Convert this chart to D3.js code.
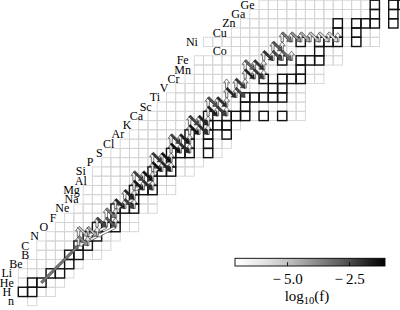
<!DOCTYPE html>
<html>
<head>
<meta charset="utf-8">
<script src="https://cdn.jsdelivr.net/npm/d3@7"></script>
<style>
body { margin: 0; background: #fff; }
</style>
</head>
<body>
<div id="chart"></div>
<script>
// element symbols by Z, and the N range of the network for each Z
const elements = ["n","H","He","Li","Be","B","C","N","O","F","Ne","Na","Mg","Al","Si","P","S",
  "Cl","Ar","K","Ca","Sc","Ti","V","Cr","Mn","Fe","Co","Ni","Cu","Zn","Ga","Ge"];
const nMin = [1,0,0,0,1,2,2,3,4,5,6,7,7,8,8,9,10,11,12,13,14,15,16,17,18,19,19,23,20,23,24,25,26];
const nMax = [1,3,4,5,6,8,9,10,12,12,14,14,16,16,18,19,21,22,22,23,30,30,30,30,32,32,34,34,38,38,37,37,37];

// stable nuclides [Z, N]
const stable = [[1,0],[1,1],[2,1],[2,2],[3,3],[3,4],[4,5],[5,5],[5,6],[6,6],[6,7],[7,7],[7,8],
  [8,8],[8,9],[8,10],[9,10],[10,10],[10,11],[10,12],[11,12],[12,12],[12,13],[12,14],[13,14],
  [14,14],[14,15],[14,16],[15,16],[16,16],[16,17],[16,18],[16,20],[17,18],[17,20],[18,18],
  [18,20],[18,22],[19,20],[19,21],[19,22],[20,20],[20,22],[20,23],[20,24],[20,26],[20,28],
  [21,24],[22,24],[22,25],[22,26],[22,27],[22,28],[23,27],[23,28],[24,26],[24,28],[24,29],
  [24,30],[25,30],[26,28],[26,30],[26,31],[26,32],[27,32],[28,30],[28,32],[28,33],[28,34],
  [28,36],[29,34],[29,36],[30,34],[30,36],[30,37],[30,38],[30,40],[31,38],[31,40],[32,38],
  [32,40],[32,41],[32,42],[32,44]];

// reaction flows [Zfrom, Nfrom, Zto, Nto, log10(f)]
const flows = [
  [2,2,6,6,-3.4],
  [6,6,7,6,-5.8],[7,6,6,7,-3.9],[6,7,7,7,-6.0],[7,7,8,7,-6.2],[8,7,7,8,-4.6],[7,8,6,6,-6.3],
  [7,6,8,6,-6.6],[8,6,7,7,-5.0],[7,8,8,8,-6.7],[8,8,9,8,-6.2],[9,8,8,9,-2.4],[8,9,9,9,-6.4],
  [8,9,7,7,-6.8],[9,9,8,10,-2.8],[8,10,7,8,-6.9],[9,9,10,9,-6.9],
  [8,10,9,10,-6.5],[9,10,10,10,-6.1],[10,9,9,10,-3.6],
  [10,10,11,10,-6.0],[11,10,10,11,-1.8],[10,11,11,11,-6.3],[11,11,10,12,-2.2],[10,12,11,12,-6.4],
  [11,12,10,10,-6.6],[11,12,12,12,-6.2],[11,11,12,11,-6.5],[12,11,11,12,-1.7],
  [12,12,13,12,-5.9],[13,12,12,13,-1.5],[12,13,13,13,-6.2],[13,13,12,14,-1.9],[12,14,13,14,-6.3],
  [13,14,14,14,-6.0],[13,14,12,12,-6.5],[13,13,14,13,-6.1],[14,13,13,14,-1.4],[13,12,14,12,-6.6],
  [14,12,13,13,-2.3],
  [14,14,15,14,-5.8],[15,14,14,15,-1.3],[14,15,15,15,-6.0],[15,15,14,16,-1.7],[14,16,15,16,-6.3],
  [15,16,16,16,-6.0],[15,16,14,14,-6.6],[15,15,16,15,-6.0],[16,15,15,16,-1.3],[15,14,16,14,-6.5],
  [16,14,15,15,-2.0],
  [16,16,17,16,-5.7],[17,16,16,17,-1.3],[16,17,17,17,-6.0],[17,17,16,18,-1.8],[16,18,17,18,-6.4],
  [17,17,18,17,-6.1],[18,17,17,18,-1.5],[17,18,18,18,-6.2],[17,16,18,16,-6.5],[18,16,17,17,-2.2],
  [18,18,19,18,-5.8],[19,18,18,19,-1.4],[18,19,19,19,-6.1],[19,19,18,20,-1.9],[18,20,19,20,-6.4],
  [19,19,20,19,-6.2],[20,19,19,20,-1.7],[19,18,20,18,-6.5],[20,18,19,19,-2.3],[19,20,20,20,-6.3],
  [20,20,21,20,-6.0],[21,20,20,21,-1.6],[20,21,21,21,-6.2],[21,21,20,22,-2.2],[20,22,21,22,-6.5],
  [21,21,22,21,-6.3],[22,21,21,22,-1.9],[21,20,22,20,-6.6],[22,20,21,21,-2.6],[21,22,22,22,-6.4],
  [22,22,23,22,-6.1],[23,22,22,23,-1.8],[22,23,23,23,-6.3],[23,23,22,24,-2.4],[23,23,24,23,-6.4],
  [24,23,23,24,-2.1],[23,24,24,24,-6.5],[23,22,24,22,-6.7],
  [24,24,25,24,-6.1],[25,24,24,25,-1.7],[24,25,25,25,-6.3],[25,25,24,26,-2.1],[24,26,25,26,-6.5],
  [25,25,26,25,-6.4],[26,25,25,26,-2.0],[25,26,26,26,-6.5],[25,24,26,24,-6.8],[26,24,25,25,-3.0],
  [26,26,27,26,-6.2],[27,26,26,27,-2.0],[26,27,27,27,-6.4],[27,27,26,28,-2.4],[26,28,27,28,-6.6],
  [27,28,26,29,-3.2],[26,29,27,29,-6.8],[27,27,28,27,-6.5],[28,27,27,28,-2.7],[27,28,28,28,-6.4],
  [28,28,29,28,-6.3],[29,28,28,29,-3.4],[28,29,29,29,-6.5],[29,29,28,30,-4.0],[28,30,29,30,-6.6],
  [29,30,28,31,-4.6],[28,31,29,31,-6.8],[29,31,28,32,-5.1],[28,32,29,32,-6.9],[29,32,28,33,-5.5],
  [28,33,29,33,-7.0],[29,33,28,34,-5.9],[28,34,29,34,-7.0]
];

const cbarDomain = [-7.1, -1.05];
const cbarTicks = [-5.0, -2.5];

const w = 400, h = 310;
const cell = 9.26;

const svg = d3.select("#chart").append("svg")
  .attr("width", w)
  .attr("height", h);

// N -> left edge of cell, Z -> bottom edge of cell
const x = d3.scaleLinear().domain([0, 41]).range([18.3, 18.3 + 41 * cell]);
const y = d3.scaleLinear().domain([0, 33]).range([305.8, 305.8 - 33 * cell]);
const shade = v => d3.interpolateGreys((v - cbarDomain[0]) / (cbarDomain[1] - cbarDomain[0]));

// network cells
const net = [];
nMin.forEach((lo, z) => {
  for (let n = lo; n <= nMax[z]; n++) net.push([z, n]);
});

svg.append("g").selectAll("rect")
  .data(net)
  .enter().append("rect")
  .attr("x", d => x(d[1]))
  .attr("y", d => y(d[0] + 1))
  .attr("width", cell)
  .attr("height", cell)
  .attr("fill", "none")
  .attr("stroke", "#d4d4d4")
  .attr("stroke-width", 0.9);

svg.append("g").selectAll("rect")
  .data(stable)
  .enter().append("rect")
  .attr("x", d => x(d[1]))
  .attr("y", d => y(d[0] + 1))
  .attr("width", cell)
  .attr("height", cell)
  .attr("fill", "none")
  .attr("stroke", "#111")
  .attr("stroke-width", 1.4);

// element labels
svg.append("g").selectAll("text")
  .data(elements)
  .enter().append("text")
  .attr("x", (d, z) => z === 0 ? x(-0.8) : x(nMin[z] - 1.25))
  .attr("y", (d, z) => y(z + 0.5) + 3.9)
  .attr("text-anchor", "middle")
  .attr("font-family", "Liberation Serif, serif")
  .attr("font-size", 12)
  .text(d => d);

// arrows
function arrowPath(d) {
  const x1 = x(d[1] + 0.5), y1 = y(d[0] + 0.5);
  const x2 = x(d[3] + 0.5), y2 = y(d[2] + 0.5);
  const L = Math.hypot(x2 - x1, y2 - y1);
  const ux = (x2 - x1) / L, uy = (y2 - y1) / L;
  const px = -uy, py = ux;
  const sw = 1.2, hw = 3.0, hl = 3.8;
  const bx = x2 - ux * hl, by = y2 - uy * hl;
  const pts = [
    [x1 + px * sw, y1 + py * sw],
    [bx + px * sw, by + py * sw],
    [bx + px * hw, by + py * hw],
    [x2, y2],
    [bx - px * hw, by - py * hw],
    [bx - px * sw, by - py * sw],
    [x1 - px * sw, y1 - py * sw]
  ];
  return "M" + pts.map(p => p[0].toFixed(2) + "," + p[1].toFixed(2)).join("L") + "Z";
}

svg.append("g").selectAll("path")
  .data(flows.slice().sort((a, b) => a[4] - b[4]))
  .enter().append("path")
  .attr("d", arrowPath)
  .attr("fill", d => shade(d[4]))
  .attr("stroke", "#2a2a2a")
  .attr("stroke-width", 0.6)
  .attr("stroke-linejoin", "miter");

// colorbar
const cbx = d3.scaleLinear().domain(cbarDomain).range([235, 385]);
const grad = svg.append("defs").append("linearGradient").attr("id", "cb");
d3.range(0, 1.0001, 0.05).forEach(t => {
  grad.append("stop").attr("offset", t).attr("stop-color", d3.interpolateGreys(t));
});
svg.append("rect")
  .attr("x", cbx(cbarDomain[0]))
  .attr("y", 258.3)
  .attr("width", cbx(cbarDomain[1]) - cbx(cbarDomain[0]))
  .attr("height", 7.7)
  .attr("fill", "url(#cb)")
  .attr("stroke", "#000")
  .attr("stroke-width", 0.9);

const cAxis = d3.axisBottom(cbx)
  .tickValues(cbarTicks)
  .tickFormat(d => "\u2212\u2009" + d3.format(".1f")(Math.abs(d)))
  .tickSizeInner(-3.8)
  .tickSizeOuter(0)
  .tickPadding(7.5);

const ag = svg.append("g")
  .attr("transform", "translate(0,266)")
  .call(cAxis);
ag.select(".domain").remove();
ag.selectAll("line").attr("stroke", "#000").attr("stroke-width", 0.9);
ag.selectAll("text")
  .attr("font-family", "Liberation Serif, serif")
  .attr("font-size", 15)
  .attr("fill", "#000");

const lab = svg.append("text")
  .attr("x", cbx((cbarDomain[0] + cbarDomain[1]) / 2) - 3)
  .attr("y", 300.5)
  .attr("text-anchor", "middle")
  .attr("font-family", "Liberation Serif, serif")
  .attr("font-size", 15);
lab.append("tspan").text("log");
lab.append("tspan").attr("dy", 3).attr("font-size", 10.5).text("10");
lab.append("tspan").attr("dy", -3).text("(f)");
</script>
</body>
</html>
